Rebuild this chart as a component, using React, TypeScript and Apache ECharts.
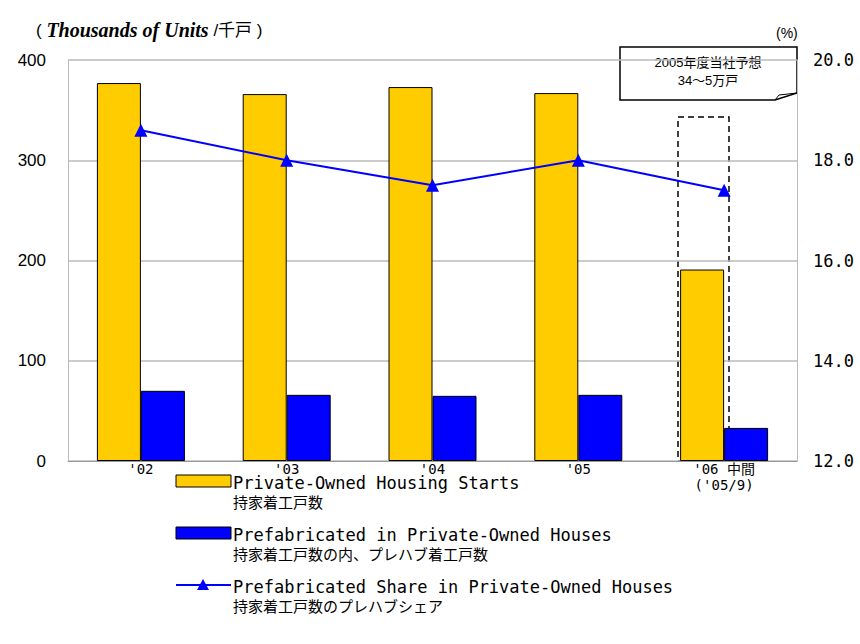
import React, { useEffect, useRef } from 'react';
import * as echarts from 'echarts';

const categories = ["'02", "'03", "'04", "'05", "'06 中間\n('05/9)"];
const housingStarts = [377, 366, 373, 367, 191];
const prefabStarts = [70, 66, 65, 66, 33];
const prefabShare = [18.6, 18.0, 17.5, 18.0, 17.4];
const leftTicks = [0, 100, 200, 300, 400];

const legendItems = [
  { en: 'Private-Owned Housing Starts', ja: '持家着工戸数', color: '#FFCC00', kind: 'bar' },
  { en: 'Prefabricated in Private-Owned Houses', ja: '持家着工戸数の内、プレハブ着工戸数', color: '#0000FF', kind: 'bar' },
  { en: 'Prefabricated Share in Private-Owned Houses', ja: '持家着工戸数のプレハブシェア', color: '#0000FF', kind: 'line' },
];

const MONO = '"DejaVu Sans Mono", "Noto Sans CJK JP", monospace';
const SANS = 'Arial, "Liberation Sans", "Noto Sans CJK JP", sans-serif';
const CJK = '"Noto Sans CJK JP", sans-serif';

export default function App() {
  const ref = useRef<HTMLDivElement>(null);

  useEffect(() => {
    document.body.style.margin = '0';
    if (!ref.current) return;
    const chart = echarts.init(ref.current, null, { renderer: 'svg' });

    const legendGraphics: any[] = [];
    legendItems.forEach((item, i) => {
      const y = 475 + i * 52;
      if (item.kind === 'bar') {
        legendGraphics.push({
          type: 'rect', shape: { x: 176, y, width: 55, height: 12 },
          style: { fill: item.color, stroke: '#000', lineWidth: 1 },
        });
      } else {
        legendGraphics.push({
          type: 'line', shape: { x1: 176, y1: y + 6, x2: 231, y2: y + 6 },
          style: { stroke: item.color, lineWidth: 2 },
        });
        legendGraphics.push({
          type: 'polygon', shape: { points: [[203, y], [197, y + 11], [209, y + 11]] },
          style: { fill: item.color },
        });
      }
      legendGraphics.push({
        type: 'text', x: 233, y: y - 1,
        style: { text: item.en, font: `17px ${MONO}`, fill: '#000' },
      });
      legendGraphics.push({
        type: 'text', x: 233, y: y + 19,
        style: { text: item.ja, font: `15px ${CJK}`, fill: '#000' },
      });
    });

    chart.setOption({
      animation: false,
      grid: { left: 68, right: 63, top: 60, bottom: 183 },
      xAxis: {
        type: 'category', data: categories,
        axisLine: { lineStyle: { color: '#999' } },
        axisTick: { show: false },
        axisLabel: { color: '#000', fontSize: 14, fontFamily: MONO, lineHeight: 16, margin: 0 },
      },
      yAxis: [
        {
          type: 'value', min: 0, max: 400, interval: 100,
          axisLine: { show: true, lineStyle: { color: '#bbb' } },
          splitLine: { lineStyle: { color: '#bbb', width: 1.5 } },
          axisLabel: { color: '#000', fontSize: 17, fontFamily: SANS, margin: 22,
            formatter: (v: number) => (leftTicks.includes(v) ? String(v) : '') },
        },
        {
          type: 'value', min: 12, max: 20, interval: 2,
          axisLine: { show: true, lineStyle: { color: '#bbb' } },
          splitLine: { show: false },
          axisLabel: { color: '#000', fontSize: 17, fontFamily: MONO, margin: 16,
            formatter: (v: number) => v.toFixed(1) },
        },
      ],
      series: [
        { type: 'bar', data: housingStarts, barWidth: 44, barGap: '0%',
          itemStyle: { color: '#FFCC00', borderColor: '#000', borderWidth: 1 } },
        { type: 'bar', data: prefabStarts, barWidth: 44, barGap: '0%',
          itemStyle: { color: '#0000FF', borderColor: '#000', borderWidth: 1 } },
        { type: 'line', yAxisIndex: 1, data: prefabShare, symbol: 'triangle', symbolSize: 13,
          lineStyle: { color: '#0000FF', width: 2 }, itemStyle: { color: '#0000FF' } },
      ],
      graphic: [
        { type: 'text', x: 36, y: 20,
          style: {
            text: '{p|( }{i|Thousands of Units}{p| /千戸 )}',
            rich: {
              p: { font: `17px ${SANS}`, fill: '#000' },
              i: { font: `italic bold 20px "Liberation Serif", serif`, fill: '#000' },
            },
          } },
        { type: 'text', x: 776, y: 26,
          style: { text: '(%)', font: `14px ${SANS}`, fill: '#000' } },
        { type: 'rect', shape: { x: 678, y: 117, width: 51, height: 344 },
          style: { fill: 'none', stroke: '#000', lineWidth: 1.5, lineDash: [6, 4] } },
        { type: 'polygon',
          shape: { points: [[620, 47], [797, 47], [797, 93], [775, 100], [620, 100]] },
          style: { fill: '#fff', stroke: '#000', lineWidth: 1.5 } },
        { type: 'polyline', shape: { points: [[775, 100], [779, 95], [797, 93]] },
          style: { stroke: '#000', fill: 'none', lineWidth: 1 } },
        { type: 'text', x: 708, y: 71,
          style: { text: '2005年度当社予想\n34～5万戸', font: `13px ${SANS}`, fill: '#000',
            align: 'center', verticalAlign: 'middle', lineHeight: 18 } },
        ...legendGraphics,
      ],
    });

    return () => chart.dispose();
  }, []);

  return <div ref={ref} style={{ width: 860, height: 644 }} />;
}
